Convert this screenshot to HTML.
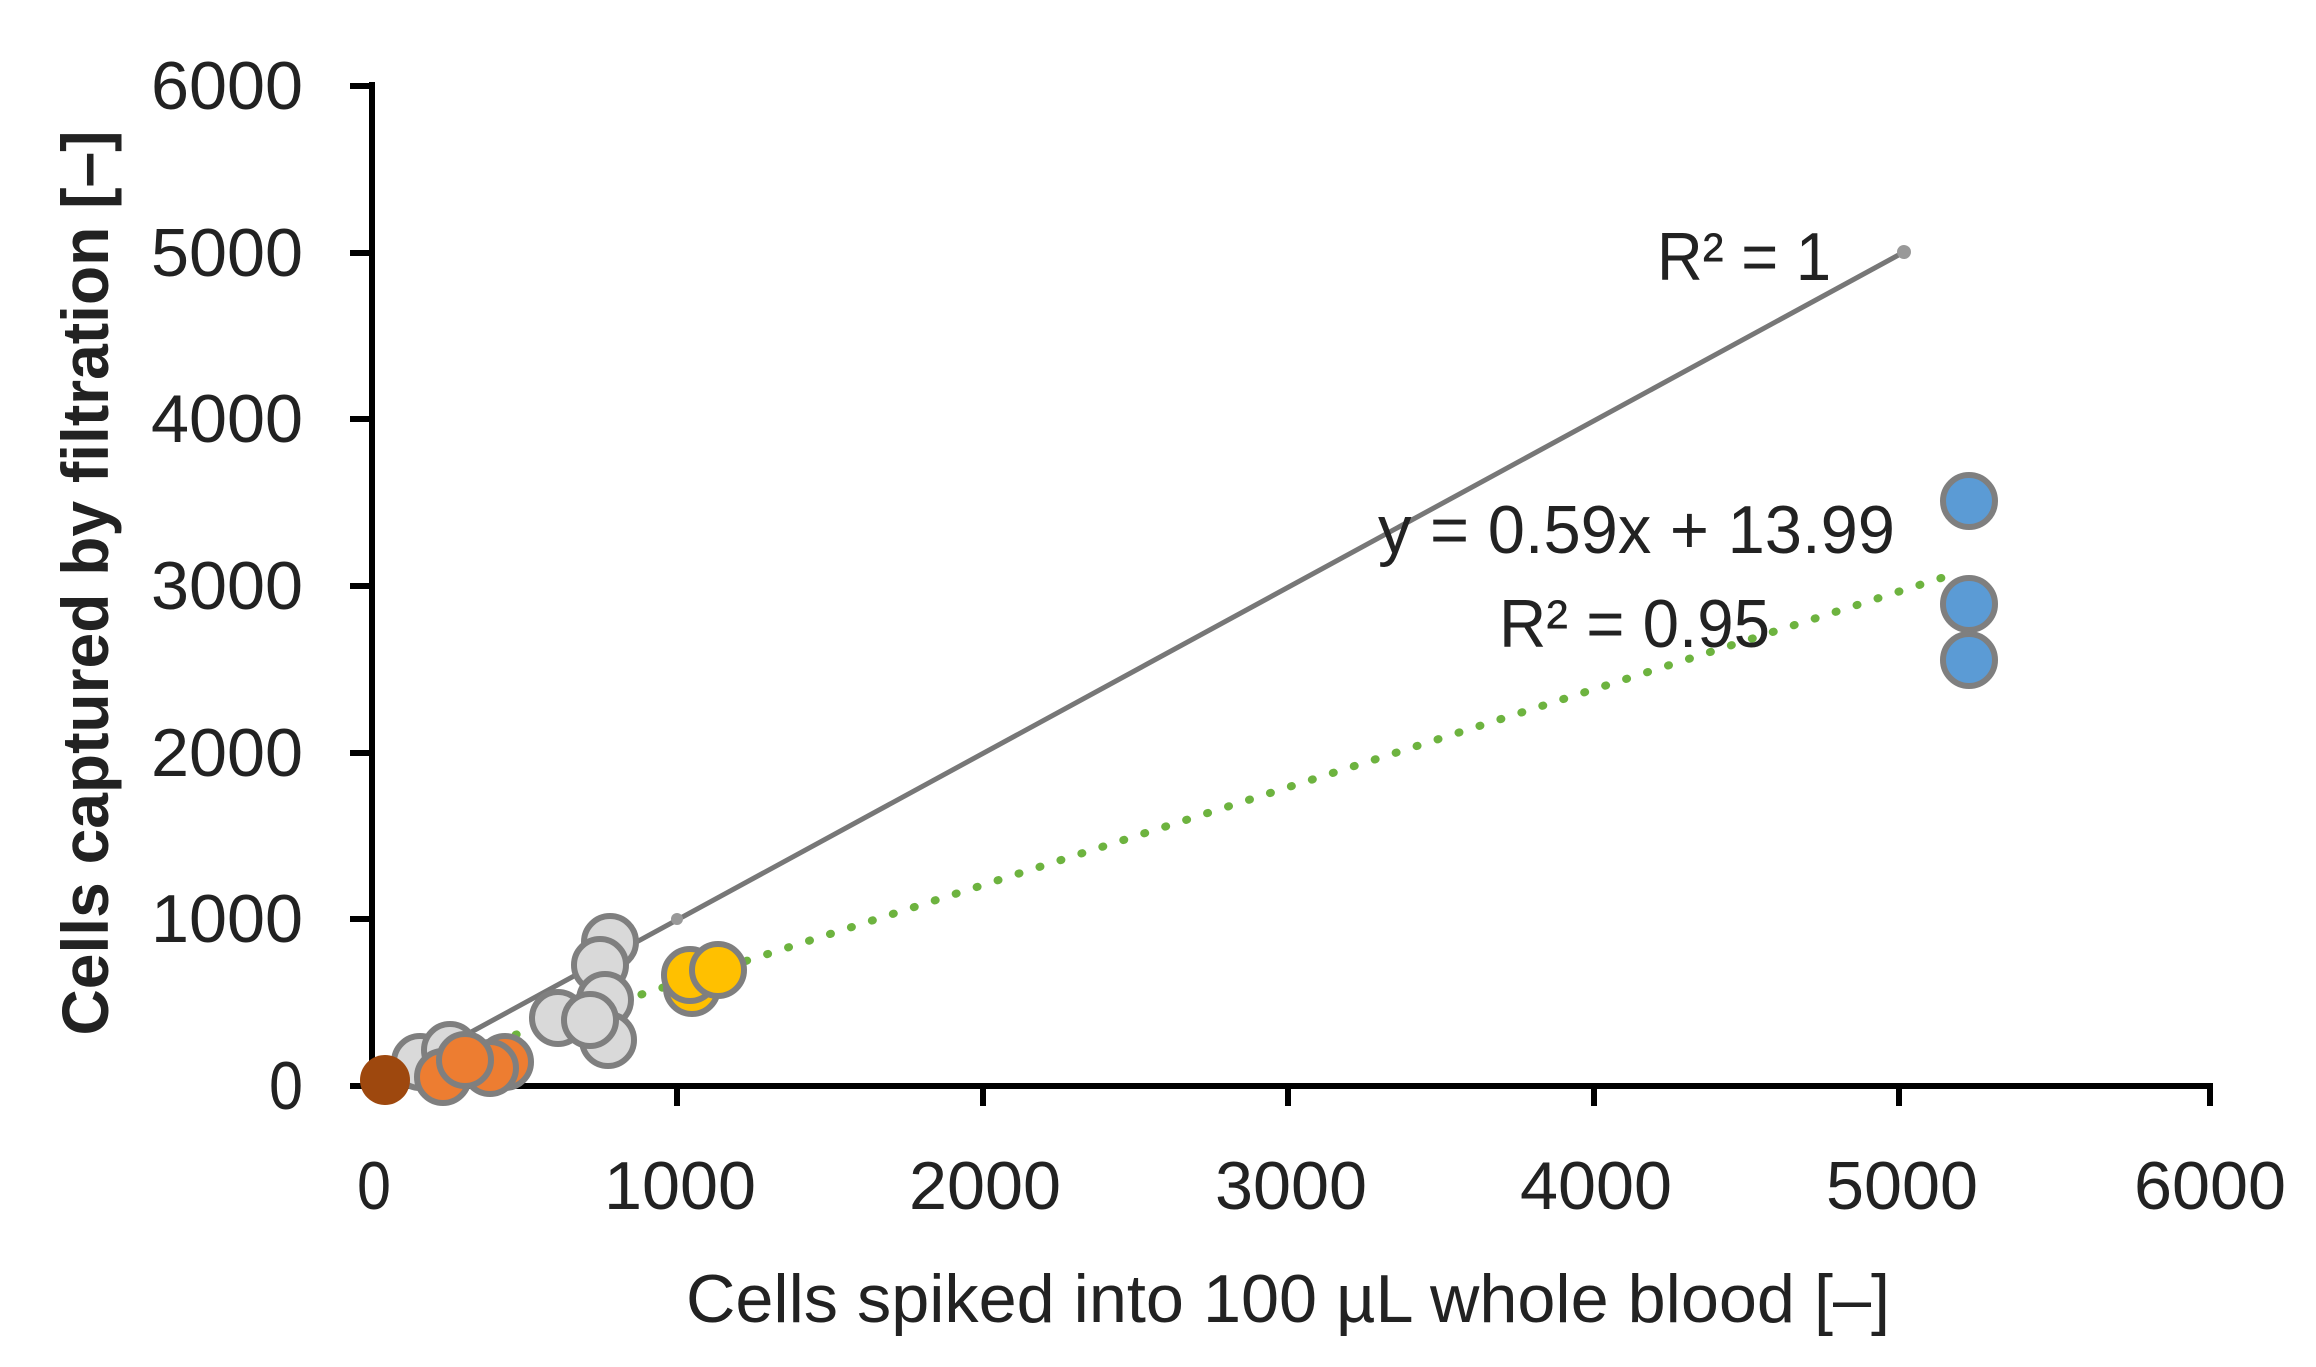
<!DOCTYPE html>
<html><head><meta charset="utf-8"><style>html,body{margin:0;padding:0;background:#fff}svg{display:block}</style></head>
<body>
<svg width="2316" height="1367" xmlns="http://www.w3.org/2000/svg" font-family="'Liberation Sans', sans-serif">
<rect width="2316" height="1367" fill="#fff"/>
<g stroke="#000" stroke-width="6">
<line x1="372" y1="82" x2="372" y2="1089"/>
<line x1="369" y1="1086" x2="2213" y2="1086"/>
<line x1="350" y1="86" x2="372" y2="86"/>
<line x1="350" y1="253" x2="372" y2="253"/>
<line x1="350" y1="419" x2="372" y2="419"/>
<line x1="350" y1="586" x2="372" y2="586"/>
<line x1="350" y1="753" x2="372" y2="753"/>
<line x1="350" y1="919" x2="372" y2="919"/>
<line x1="350" y1="1086" x2="372" y2="1086"/>
<line x1="677" y1="1086" x2="677" y2="1106"/>
<line x1="983" y1="1086" x2="983" y2="1106"/>
<line x1="1288" y1="1086" x2="1288" y2="1106"/>
<line x1="1594" y1="1086" x2="1594" y2="1106"/>
<line x1="1899" y1="1086" x2="1899" y2="1106"/>
<line x1="2210" y1="1086" x2="2210" y2="1106"/>
</g>
<g font-size="68" fill="#222" text-anchor="end">
<text x="303" y="109" textLength="152" lengthAdjust="spacingAndGlyphs">6000</text>
<text x="303" y="276" textLength="152" lengthAdjust="spacingAndGlyphs">5000</text>
<text x="303" y="442" textLength="152" lengthAdjust="spacingAndGlyphs">4000</text>
<text x="303" y="609" textLength="152" lengthAdjust="spacingAndGlyphs">3000</text>
<text x="303" y="776" textLength="152" lengthAdjust="spacingAndGlyphs">2000</text>
<text x="303" y="942" textLength="152" lengthAdjust="spacingAndGlyphs">1000</text>
<text x="303" y="1109" textLength="34" lengthAdjust="spacingAndGlyphs">0</text>
</g>
<g font-size="68" fill="#222" text-anchor="middle">
<text x="374" y="1209" textLength="34" lengthAdjust="spacingAndGlyphs">0</text>
<text x="680" y="1209" textLength="152" lengthAdjust="spacingAndGlyphs">1000</text>
<text x="985" y="1209" textLength="152" lengthAdjust="spacingAndGlyphs">2000</text>
<text x="1291" y="1209" textLength="152" lengthAdjust="spacingAndGlyphs">3000</text>
<text x="1596" y="1209" textLength="152" lengthAdjust="spacingAndGlyphs">4000</text>
<text x="1902" y="1209" textLength="152" lengthAdjust="spacingAndGlyphs">5000</text>
<text x="2210" y="1209" textLength="152" lengthAdjust="spacingAndGlyphs">6000</text>
</g>
<text x="1288" y="1322" font-size="68" fill="#222" text-anchor="middle" textLength="1204" lengthAdjust="spacingAndGlyphs">Cells spiked into 100 µL whole blood [–]</text>
<text transform="translate(108,583) rotate(-90)" font-size="66" font-weight="bold" fill="#222" text-anchor="middle" textLength="905" lengthAdjust="spacingAndGlyphs">Cells captured by filtration [–]</text>
<line x1="372" y1="1086" x2="1904" y2="252" stroke="#777" stroke-width="5"/>
<circle cx="677" cy="919" r="6" fill="#999"/>
<circle cx="1904" cy="252" r="7" fill="#999"/>
<line x1="390" y1="1075" x2="1960" y2="572" stroke="#6db33f" stroke-width="8" stroke-dasharray="1 21" stroke-linecap="round"/>
<g stroke="#7f7f7f" stroke-width="6">
<circle cx="420" cy="1062" r="26" fill="#d9d9d9"/>
<circle cx="450" cy="1050" r="26" fill="#d9d9d9"/>
<circle cx="610" cy="942" r="26" fill="#d9d9d9"/>
<circle cx="600" cy="965" r="26" fill="#d9d9d9"/>
<circle cx="605" cy="1000" r="26" fill="#d9d9d9"/>
<circle cx="558" cy="1018" r="26" fill="#d9d9d9"/>
<circle cx="608" cy="1040" r="26" fill="#d9d9d9"/>
<circle cx="590" cy="1020" r="26" fill="#d9d9d9"/>
<circle cx="692" cy="988" r="26" fill="#ffc000"/>
<circle cx="690" cy="975" r="26" fill="#ffc000"/>
<circle cx="718" cy="970" r="26" fill="#ffc000"/>
<circle cx="443" cy="1077" r="26" fill="#ed7d31"/>
<circle cx="505" cy="1062" r="26" fill="#ed7d31"/>
<circle cx="490" cy="1068" r="26" fill="#ed7d31"/>
<circle cx="465" cy="1060" r="26" fill="#ed7d31"/>
<circle cx="1969" cy="501" r="26" fill="#5b9bd5"/>
<circle cx="1969" cy="604" r="26" fill="#5b9bd5"/>
<circle cx="1969" cy="660" r="26" fill="#5b9bd5"/>
</g>
<circle cx="385" cy="1080" r="25" fill="#9e480e"/>
<g font-size="68" fill="#222">
<text x="1657" y="280" textLength="174" lengthAdjust="spacingAndGlyphs">R² = 1</text>
<text x="1378" y="553" textLength="517" lengthAdjust="spacingAndGlyphs">y = 0.59x + 13.99</text>
<text x="1499" y="647" textLength="271" lengthAdjust="spacingAndGlyphs">R² = 0.95</text>
</g>
</svg>
</body></html>
